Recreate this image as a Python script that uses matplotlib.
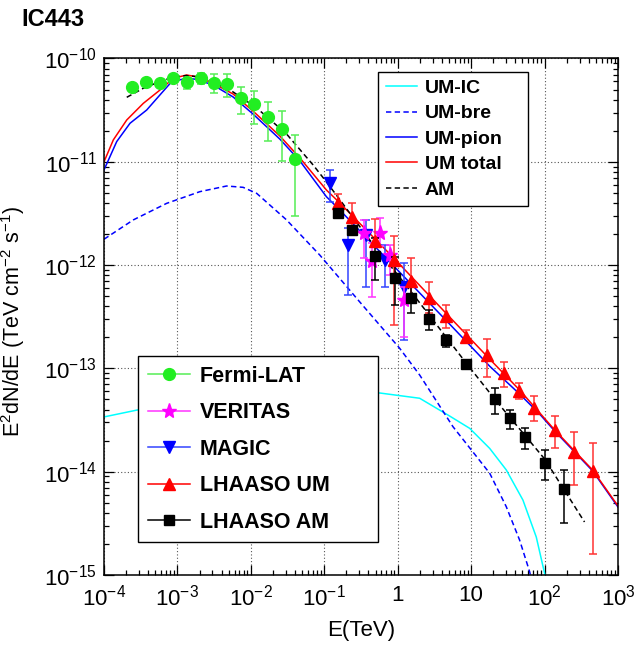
import numpy as np
import matplotlib
matplotlib.use("Agg")
import matplotlib.pyplot as plt
from matplotlib.lines import Line2D
from matplotlib.ticker import FixedLocator, FixedFormatter, LogLocator, NullFormatter

plt.rcParams['font.family'] = ['Liberation Sans', 'DejaVu Sans']
plt.rcParams['mathtext.fontset'] = 'custom'
plt.rcParams['mathtext.rm'] = 'Liberation Sans'
plt.rcParams['mathtext.default'] = 'regular'

# ---------------- data points ----------------
fermi_E = [2.43e-4, 3.72e-4, 5.78e-4, 8.77e-4, 1.33e-3, 2.07e-3, 3.14e-3, 4.76e-3,
           7.38e-3, 1.12e-2, 1.72e-2, 2.62e-2, 4.01e-2]
fermi_F = [5.26e-11, 5.89e-11, 5.75e-11, 6.52e-11, 5.93e-11, 6.47e-11, 5.83e-11, 5.62e-11,
           4.12e-11, 3.61e-11, 2.74e-11, 2.07e-11, 1.06e-11]
fermi_lo = [5.0e-11, 5.6e-11, 5.45e-11, 6.2e-11, 5.04e-11, 5.66e-11, 4.60e-11, 4.21e-11,
            2.88e-11, 2.31e-11, 1.59e-11, 1.02e-11, 2.99e-12]
fermi_hi = [5.5e-11, 6.2e-11, 6.05e-11, 6.85e-11, 6.43e-11, 7.19e-11, 7.03e-11, 7.03e-11,
            5.33e-11, 4.84e-11, 3.82e-11, 3.10e-11, 1.82e-11]

veritas_E = [0.344, 0.443, 0.569, 0.778, 1.21]
veritas_F = [2.05e-12, 1.10e-12, 2.05e-12, 1.25e-12, 4.59e-13]
veritas_lo = [1.17e-12, 4.91e-13, 1.53e-12, 8.02e-13, 2.01e-13]
veritas_hi = [2.74e-12, 1.64e-12, 2.86e-12, 1.57e-12, 6.12e-13]

magic_E = [0.119, 0.211, 0.375, 0.665, 1.22]
magic_F = [6.28e-12, 1.57e-12, 1.95e-12, 1.12e-12, 6.18e-13]
magic_lo = [4.11e-12, 5.14e-13, 6.18e-13, 6.18e-13, 1.88e-13]
magic_hi = [8.34e-12, 2.27e-12, 2.74e-12, 1.57e-12, 1.04e-12]

um_E = [0.154, 0.239, 0.497, 0.891, 1.53, 2.69, 4.59, 8.61, 16.6, 27.7, 44.8, 71.6, 137, 251, 460]
um_F = [4.02e-12, 2.90e-12, 1.72e-12, 1.12e-12, 7.06e-13, 4.78e-13, 3.21e-13, 2.03e-13,
        1.35e-13, 9.08e-14, 6.04e-14, 4.17e-14, 2.53e-14, 1.56e-14, 1.02e-14]
um_lo = [3.41e-12, 2.10e-12, 1.49e-12, 2.63e-13, 4.59e-13, 3.41e-13, 2.44e-13, 1.75e-13,
         8.20e-14, 6.56e-14, 5.06e-14, 3.12e-14, 1.71e-14, 7.43e-15, 1.60e-15]
um_hi = [4.84e-12, 4.02e-12, 2.77e-12, 1.91e-12, 1.16e-12, 6.90e-13, 4.11e-13, 2.36e-13,
         1.91e-13, 1.16e-13, 7.28e-14, 5.41e-14, 3.46e-14, 2.44e-14, 1.91e-14]

am_E = [0.154, 0.239, 0.497, 0.910, 1.53, 2.67, 4.59, 8.61, 20.9, 33.4, 53.5, 100, 182]
am_F = [3.21e-12, 2.19e-12, 1.22e-12, 7.45e-13, 4.78e-13, 2.99e-13, 1.88e-13, 1.10e-13,
        5.02e-14, 3.29e-14, 2.18e-14, 1.22e-14, 6.81e-15]
am_lo = [2.95e-12, 2.0e-12, 7.18e-13, 4.11e-13, 3.41e-13, 2.36e-13, 1.62e-13, 1.03e-13,
         3.62e-14, 2.59e-14, 1.66e-14, 8.32e-15, 3.16e-15]
am_hi = [3.45e-12, 2.4e-12, 1.82e-12, 1.21e-12, 6.41e-13, 3.67e-13, 2.10e-13, 1.17e-13,
         6.41e-14, 3.95e-14, 2.67e-14, 1.62e-14, 1.04e-14]

# ---------------- model curves ----------------
total_E = [1e-4, 1.34e-4, 2.04e-4, 3.43e-4, 5.78e-4, 8.77e-4, 1.33e-3, 1.82e-3, 3.07e-3,
           5.74e-3, 1.07e-2, 2.48e-2, 4.65e-2, 0.107, 0.153, 0.883, 4.64, 17.9, 45.7, 137, 450, 1000]
total_F = [1.00e-11, 1.63e-11, 2.54e-11, 3.68e-11, 4.95e-11, 6.43e-11, 6.92e-11, 6.67e-11, 5.75e-11,
           4.53e-11, 3.10e-11, 1.78e-11, 1.09e-11, 5.33e-12, 4.17e-12, 1.17e-12, 3.37e-13, 1.23e-13,
           6.18e-14, 2.54e-14, 1.04e-14, 4.66e-15]

pion_E = [1e-4, 1.49e-4, 2.26e-4, 3.81e-4, 5.78e-4, 8.34e-4, 1.33e-3, 1.82e-3, 3.07e-3,
          5.74e-3, 1.07e-2, 2.48e-2, 4.65e-2, 0.107, 0.153, 0.883, 4.64, 17.9, 45.7, 85.5, 137, 450, 1000]
pion_F = [8.34e-12, 1.57e-11, 2.36e-11, 3.17e-11, 4.44e-11, 5.96e-11, 6.43e-11, 6.29e-11, 5.53e-11,
          4.24e-11, 2.90e-11, 1.66e-11, 1.02e-11, 4.59e-12, 3.57e-12, 9.79e-13, 2.88e-13, 1.05e-13,
          5.65e-14, 3.62e-14, 2.48e-14, 1.02e-14, 4.55e-15]

ic_E = [1e-4, 2.81e-4, 2.02e-3, 4.65e-2, 0.569, 1.99, 5.09, 9.55, 17.9, 30.1, 50.7, 77.1, 100, 103]
ic_F = [3.39e-14, 3.95e-14, 4.94e-14, 5.78e-14, 5.78e-14, 5.14e-14, 3.46e-14, 2.63e-14, 1.68e-14,
        1.04e-14, 5.32e-15, 2.33e-15, 1.04e-15, 8.95e-16]

bre_E = [1e-4, 2.51e-4, 7.13e-4, 2.02e-3, 4.67e-3, 7.85e-3, 1.20e-2, 3.06e-2, 8.69e-2, 0.304,
         1.06, 1.99, 5.65, 17.9, 30.1, 45.7, 62.5, 66.5]
bre_F = [1.78e-12, 2.74e-12, 3.96e-12, 5.14e-12, 5.83e-12, 5.66e-12, 4.95e-12, 2.74e-12, 1.25e-12,
         4.40e-13, 1.57e-13, 8.63e-14, 2.73e-14, 9.66e-15, 4.58e-15, 2.18e-15, 1.08e-15, 8.95e-16]

amfit_E = [2.04e-4, 3.43e-4, 5.78e-4, 8.77e-4, 1.33e-3, 2.02e-3, 3.07e-3, 5.74e-3, 1.20e-2,
           3.06e-2, 7.05e-2, 0.102, 0.153, 0.416, 1.46, 8.61, 22.0, 100, 350]
amfit_F = [4.21e-11, 5.15e-11, 5.98e-11, 6.62e-11, 6.84e-11, 6.62e-11, 5.93e-11, 4.74e-11, 3.32e-11,
           1.86e-11, 9.31e-12, 6.67e-12, 4.56e-12, 1.75e-12, 5.74e-13, 1.12e-13, 4.83e-14, 1.33e-14, 3.26e-15]

xtick_vals = [1e-4, 1e-3, 1e-2, 1e-1, 1, 10, 1e2, 1e3]
xtick_labels = ['$10^{-4}$', '$10^{-3}$', '$10^{-2}$', '$10^{-1}$', '1', '10', '$10^{2}$', '$10^{3}$']
ytick_vals = [1e-15, 1e-14, 1e-13, 1e-12, 1e-11, 1e-10]
ytick_labels = ['$10^{-15}$', '$10^{-14}$', '$10^{-13}$', '$10^{-12}$', '$10^{-11}$', '$10^{-10}$']

# ---------------- figure ----------------
W, H = 635, 648
fig = plt.figure(figsize=(W / 100, H / 100), dpi=100)
ax = fig.add_axes([104 / W, (H - 575) / H, 514 / W, 516.5 / H])
ax.set_xscale('log')
ax.set_yscale('log')
ax.set_xlim(1e-4, 1e3)
ax.set_ylim(1e-15, 1e-10)

dash = (3.5, 2.2)
ax.plot(ic_E, ic_F, color='#00ffff', lw=1.1, zorder=2)
ax.plot(bre_E, bre_F, color='#0000ff', lw=1.1, dashes=dash, zorder=2)
ax.plot(pion_E, pion_F, color='#0000ff', lw=1.1, zorder=2)
ax.plot(total_E, total_F, color='#ff0000', lw=1.1, zorder=2.1)
ax.plot(amfit_E, amfit_F, color='black', lw=1.1, dashes=dash, zorder=2.2)

def eb(E, F, lo, hi, color, ecolor, marker, ms, z):
    F = np.asarray(F)
    yerr = [F - np.asarray(lo), np.asarray(hi) - F]
    ax.errorbar(E, F, yerr=yerr, fmt=marker, color=color, ecolor=ecolor, ms=ms,
                mec=color, mfc=color, elinewidth=1.1, capsize=3.2, capthick=1.1, zorder=z)

eb(fermi_E, fermi_F, fermi_lo, fermi_hi, '#22ee22', '#55ee55', 'o', 8.5, 3)
eb(magic_E, magic_F, magic_lo, magic_hi, '#0000ff', '#3344ff', 'v', 8.5, 3)
eb(veritas_E, veritas_F, veritas_lo, veritas_hi, '#ff00ff', '#ff33ff', '*', 11, 3.1)
eb(um_E, um_F, um_lo, um_hi, '#ff0000', '#ff3333', '^', 8.5, 3.2)
eb(am_E, am_F, am_lo, am_hi, 'black', 'black', 's', 7, 3.3)

# axes styling
ax.xaxis.set_major_locator(FixedLocator(xtick_vals))
ax.xaxis.set_major_formatter(FixedFormatter(xtick_labels))
ax.yaxis.set_major_locator(FixedLocator(ytick_vals))
ax.yaxis.set_major_formatter(FixedFormatter(ytick_labels))
ax.xaxis.set_minor_locator(LogLocator(base=10, subs=np.arange(2, 10), numticks=20))
ax.yaxis.set_minor_locator(LogLocator(base=10, subs=np.arange(2, 10), numticks=20))
ax.xaxis.set_minor_formatter(NullFormatter())
ax.yaxis.set_minor_formatter(NullFormatter())
ax.tick_params(which='both', direction='in', top=True, right=True, width=0.9, labelsize=16)
ax.tick_params(which='major', length=7.5)
ax.tick_params(which='minor', length=3.8)
ax.tick_params(axis='x', pad=7)
ax.tick_params(axis='y', pad=5)
ax.grid(True, which='major', linestyle=(0, (1, 2)), color='#555555', lw=0.8)
for s in ax.spines.values():
    s.set_linewidth(1.1)

ax.set_xlabel('E(TeV)', fontsize=16)
ax.xaxis.set_label_coords(0.5, -0.087)
ax.set_ylabel('E$^{2}$dN/dE (TeV cm$^{-2}$ s$^{-1}$)', fontsize=15.5)
ax.yaxis.set_label_coords(-0.15, 0.49)

fig.text(21 / W, 1 - 19 / H, 'IC443', fontsize=17, fontweight='bold', ha='left', va='center')

# legend 1 (models)
h1 = [Line2D([], [], color='#00ffff', lw=1.1),
      Line2D([], [], color='#0000ff', lw=1.1, dashes=dash),
      Line2D([], [], color='#0000ff', lw=1.1),
      Line2D([], [], color='#ff0000', lw=1.1),
      Line2D([], [], color='black', lw=1.1, dashes=dash)]
l1 = ['UM-IC', 'UM-bre', 'UM-pion', 'UM total', 'AM']
x0, x1 = (378 - 104) / 514, (528 - 104) / 514
ytop = (575 - 71.7) / 516.5
leg1 = ax.legend(h1, l1, loc='upper left', bbox_to_anchor=(x0, ytop - 0.5, x1 - x0, 0.5),
                 mode='expand', prop={'weight': 'bold', 'size': 14}, frameon=True,
                 fancybox=False, edgecolor='black', framealpha=1, borderpad=0.4,
                 labelspacing=0.4, handlelength=1.6, handletextpad=0.4, borderaxespad=0)
leg1.get_frame().set_linewidth(1.0)
leg1.set_zorder(5)
ax.add_artist(leg1)

# legend 2 (data)
h2 = [Line2D([], [], color='#55ee55', marker='o', ms=8.5, mfc='#22ee22', mec='#22ee22', lw=1.1),
      Line2D([], [], color='#ff33ff', marker='*', ms=11, mfc='#ff00ff', mec='#ff00ff', lw=1.1),
      Line2D([], [], color='#3344ff', marker='v', ms=8.5, mfc='#0000ff', mec='#0000ff', lw=1.1),
      Line2D([], [], color='#ff0000', marker='^', ms=8.5, mfc='#ff0000', mec='#ff0000', lw=1.1),
      Line2D([], [], color='black', marker='s', ms=7, mfc='black', mec='black', lw=1.1)]
l2 = ['Fermi-LAT', 'VERITAS', 'MAGIC', 'LHAASO UM', 'LHAASO AM']
x0, x1 = (138.3 - 104) / 514, (378.3 - 104) / 514
ytop = (575 - 356) / 516.5
leg2 = ax.legend(h2, l2, loc='upper left', bbox_to_anchor=(x0, ytop - 0.4, x1 - x0, 0.4),
                 mode='expand', prop={'weight': 'bold', 'size': 15.5}, frameon=True,
                 fancybox=False, edgecolor='black', framealpha=1, borderpad=0.45,
                 labelspacing=0.72, handlelength=1.95, handletextpad=0.45, borderaxespad=0)
leg2.get_frame().set_linewidth(1.0)
leg2.set_zorder(5)

fig.savefig('out.png', dpi=100)
